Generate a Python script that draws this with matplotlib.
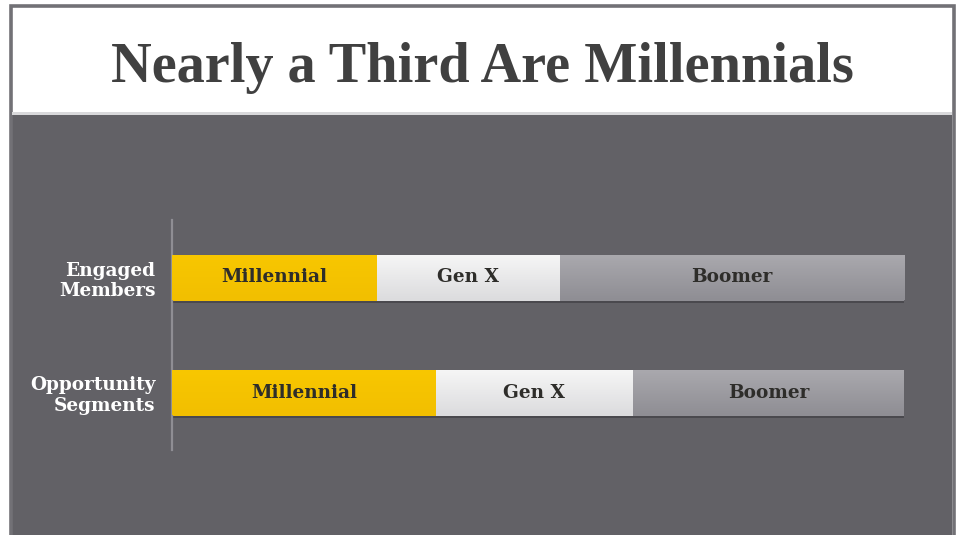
import numpy as np
import matplotlib
matplotlib.use("Agg")
import matplotlib.pyplot as plt
from matplotlib.patches import Rectangle
from matplotlib.colors import LinearSegmentedColormap

# Share of each generation (percent of the row total)
groups = ["Engaged\nMembers", "Opportunity\nSegments"]
segments = ["Millennial", "Gen X", "Boomer"]
engaged = [28, 25, 47]
opportunity = [36, 27, 37]
rows = [engaged, opportunity]

W, H = 959, 535
fig = plt.figure(figsize=(W / 100, H / 100), dpi=100)
fig.patch.set_facecolor("white")

def px_box(x0, y0, x1, y1):
    """Convert a top-left pixel box to figure fraction (left, bottom, w, h)."""
    return (x0 / W, 1 - y1 / H, (x1 - x0) / W, (y1 - y0) / H)

# Outer frame, white title band and dark content panel
panel_col = "#626166"
frame_col = "#727176"
l, b, w, h = px_box(12, 114, 952, 535)
fig.patches.append(Rectangle((l, b), w, h, transform=fig.transFigure,
                             facecolor=panel_col, edgecolor="none", zorder=-3))
l, b, w, h = px_box(10.5, 6.5, 953.5, 540)
fig.patches.append(Rectangle((l, b), w, h, transform=fig.transFigure,
                             facecolor="none", edgecolor=frame_col, lw=2.6, zorder=-2))
l, b, w, h = px_box(12, 112, 952, 115)
fig.patches.append(Rectangle((l, b), w, h, transform=fig.transFigure,
                             facecolor="#d9d9db", edgecolor="none", zorder=-2))

fig.text(482 / W, 1 - 68 / H, "Nearly a Third Are Millennials",
         ha="center", va="center", fontsize=40.5, fontweight="bold",
         family="Liberation Serif", color="#404040")

ax = fig.add_axes(px_box(172, 220, 904, 450))
ax.set_zorder(2)
ax.set_facecolor("none")
ax.set_xlim(0, 100)
ax.set_ylim(-0.5, 1.5)

# Vertical gradients for each segment (top colour, bottom colour)
grads = {
    "Millennial": ("#f8c700", "#f2bf00"),
    "Gen X": ("#f6f6f6", "#dcdcde"),
    "Boomer": ("#aaa9ae", "#8f8e94"),
}
ypos = [1, 0]
bar_h = 0.4

for yi, vals in zip(ypos, rows):
    left = 0
    # soft drop shadow under the whole bar
    ax.barh(yi - 0.025, sum(vals), left=0, height=bar_h, color="#4a494e",
            edgecolor="none", zorder=1)
    for name, v in zip(segments, vals):
        bars = ax.barh(yi, v, left=left, height=bar_h, color=grads[name][1],
                       edgecolor="none", zorder=2)
        patch = bars.patches[0]
        cmap = LinearSegmentedColormap.from_list(name, [grads[name][1], grads[name][0]])
        img = ax.imshow(np.linspace(0, 1, 64).reshape(-1, 1), cmap=cmap,
                        aspect="auto", origin="lower",
                        extent=(left, left + v, yi - bar_h / 2, yi + bar_h / 2),
                        zorder=3)
        img.set_clip_path(patch)
        ax.text(left + v / 2, yi, name, ha="center", va="center",
                fontsize=13.3, fontweight="bold", family="DejaVu Serif",
                color="#2e2d2a", zorder=4)
        left += v

ax.set_xlim(0, 100)
ax.set_ylim(-0.5, 1.5)
for s in ["top", "right", "bottom"]:
    ax.spines[s].set_visible(False)
ax.spines["left"].set_color("#8f8e94")
ax.spines["left"].set_linewidth(1.6)
ax.set_xticks([])
ax.set_yticks(ypos)
ax.set_yticklabels(groups, fontsize=13.3, fontweight="bold",
                   family="DejaVu Serif", color="white", linespacing=1.2)
ax.tick_params(axis="y", length=0, pad=12)
for t in ax.get_yticklabels():
    t.set_horizontalalignment("right")
    t.set_multialignment("right")

fig.savefig("out.png", dpi=100, facecolor=fig.get_facecolor())
